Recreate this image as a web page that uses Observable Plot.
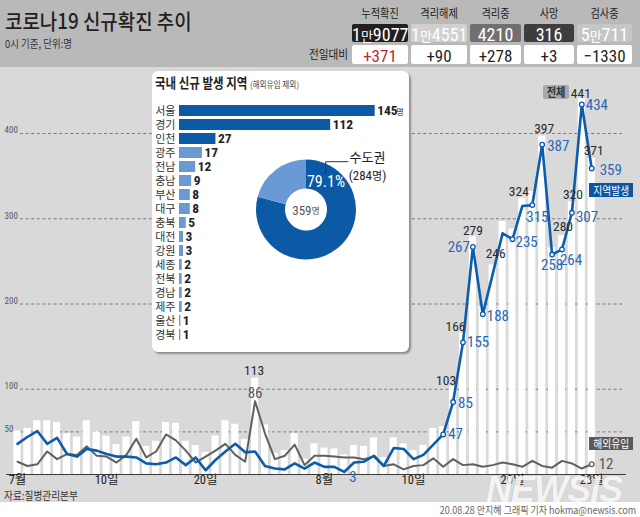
<!DOCTYPE html>
<html><head><meta charset="utf-8">
<script src="https://cdn.jsdelivr.net/npm/d3@7"></script>
<script src="https://cdn.jsdelivr.net/npm/@observablehq/plot@0.6"></script>
<style>
body{margin:0;}
#page{position:relative;width:640px;height:517px;overflow:hidden;background:#fff;font-family:"Noto Sans CJK KR",sans-serif;}
.abs{position:absolute;white-space:nowrap;}
.num{font-family:"Liberation Sans Narrow","Roboto Condensed","Roboto","Noto Sans CJK KR",sans-serif;}
.sq{display:inline-block;}
</style></head><body>
<div id="page"></div>
<script>
// ---------------- DATA ----------------
const titleText = "코로나19 신규확진 추이";
const subtitleText = "0시 기준, 단위:명";
const statNames = ["누적확진","격리해제","격리중","사망","검사중"];
const statValues = ["1만9077","1만4551","4210","316","5만711"];
const statChanges = ["+371","+90","+278","+3","−1330"];
const changeLabel = "전일대비";

// daily counts, July 1 .. Aug 28 (2020)
const totalCases = [51,54,63,63,61,48,44,63,50,45,35,44,62,33,39,61,60,39,34,26,45,63,59,41,113,58,25,28,48,18,36,
  31,30,23,34,33,43,20,43,36,28,34,54,56,103,166,279,197,246,297,288,324,332,397,266,280,320,441,371];
const localCases = [36,44,51,36,43,24,21,30,28,24,21,21,20,13,12,14,20,11,20,5,17,27,36,26,27,10,7,6,13,7,14,
  9,9,3,14,15,22,10,31,30,18,23,35,47,85,155,267,188,235,283,276,315,316,387,258,264,307,434,359];
const importedCases = [15,10,12,27,18,24,23,33,22,21,14,23,42,20,27,47,40,28,14,21,28,36,23,15,86,48,18,22,35,11,22,
  22,21,20,20,18,21,10,12,6,10,11,19,9,18,11,12,9,11,14,12,9,16,10,8,16,13,7,12];

const xTickDays = [0,9,19,31,40,50,58];
const xTickLabels = ["7월","10일","20일","8월","10일","20일","28일"];
const yTicks = [50,100,200,300,400];

// labelled points
const markedDays = [43,44,45,46,47,50,52,53,54,55,56,57,58];
const localLabelDays = [43,44,45,46,47,50,52,53,54,55,56,57,58,33];
const localLabelText = ["47","85","155","267","188","235","315","387","258","264","307","434","359","3"];
const totalLabelDays = [24,44,45,46,48,51,53,55,56,57,58];
const totalLabelText = ["113","103","166","279","246","324","397","280","320","441","371"];
const importedLabelDays = [24,58];
const importedLabelText = ["86","12"];

const regionNames = ["서울","경기","인천","광주","전남","충남","부산","대구","충북","대전","강원","세종","전북","경남","제주","울산","경북"];
const regionCounts = [145,112,27,17,12,9,8,8,5,3,3,2,2,2,2,1,1];
const metroRegions = ["서울","경기","인천"];
const metroSplit = [284, 75];

const sourceText = "자료:질병관리본부";
const creditText = "20.08.28 안지혜 그래픽 기자 hokma@newsis.com";

// ---------------- STYLE / LAYOUT ----------------
const NUM = '"Liberation Sans Narrow","Roboto Condensed","Roboto","Noto Sans CJK KR",sans-serif';
const BLUE = "#0b5cad", BLUE_TXT = "#2a68b5", GRAY_LINE = "#606060";
const page = document.getElementById("page");
function div(style, html, parent){ const d=document.createElement("div"); d.className="abs"; d.style.cssText=style; if(html!==undefined) d.innerHTML=html; (parent||page).appendChild(d); return d; }

// backgrounds
div("left:0;top:0;width:640px;height:67px;background:#b9b9b9;");
div("left:0;top:67px;width:640px;height:435px;background:#d9d9d9;");

// header
div("left:5px;top:7px;font-size:21px;line-height:26px;font-weight:500;color:#231f20;transform:scaleX(0.9);transform-origin:left center;", titleText);
div("left:5px;top:36px;font-size:11px;line-height:14px;color:#333;transform:scaleX(0.86);transform-origin:left center;", subtitleText);

const boxX = [[352,408],[411,467],[470,521],[524,574],[577,632]];
const boxBg = ["#231f20","#d0d0d0","#707070","#3d3d3d","#c6c6c6"];
const changeColors = ["#c1272d","#231f20","#231f20","#231f20","#231f20"];
function fmtVal(s){ return s.includes("만") ? s.split("만").join('<span style="font-family:\'Noto Sans CJK KR\';font-size:13px;">만</span>') : s; }
statNames.forEach((n,k)=>{
  const [x0,x1]=boxX[k], w=x1-x0;
  div(`left:${x0-6}px;top:6px;width:${w+12}px;text-align:center;font-size:12px;line-height:14px;color:#222;`, `<span class="sq" style="transform:scaleX(0.85);">${n}</span>`);
  div(`left:${x0}px;top:24px;width:${w}px;height:18px;background:${boxBg[k]};color:#fff;text-align:center;font-size:18px;line-height:18px;border-radius:2px;`, `<span class="num">${fmtVal(statValues[k])}</span>`);
  div(`left:${x0}px;top:44.5px;width:${w}px;height:19px;background:#fff;color:${changeColors[k]};text-align:center;font-size:17px;line-height:19px;border-radius:2px;`, `<span class="num">${statChanges[k]}</span>`);
});
div("left:280px;top:46px;width:68px;text-align:right;font-size:12.5px;line-height:15px;color:#222;", `<span class="sq" style="transform:scaleX(0.85);transform-origin:right center;">${changeLabel}</span>`);

// ---------------- MAIN CHART ----------------
const rows = totalCases.map((t,i)=>({i, total:t, local:localCases[i], imported:importedCases[i]}));
const marked = markedDays.map(i=>rows[i]);

const localLabelOff = [[5,0,"start"],[5,1,"start"],[4,0,"start"],[-3,0,"end"],[4,2,"start"],[3,3,"start"],[-6,12,"start"],[5,2,"start"],[0,11,"middle"],[9,11,"middle"],[4,4,"start"],[4,1,"start"],[8,1.5,"start"],[5,5,"start"]];
const totalLabelOff = [[-1,-7],[-7,-6],[-7.5,-6],[0,-6],[3,-11],[-3.6,-7],[2,-7],[1,-9.5],[1,-7],[-1,-5],[2,-7.5]];
const importedLabelOff = [[0,-8,"middle"],[7,0,"start"]];

const labelMarks = [];
localLabelDays.forEach((d,k)=>{
  const [dx,dy,a]=localLabelOff[k];
  labelMarks.push(Plot.text([{i:d, v:localCases[d], t:localLabelText[k]}], {x:"i", y:"v", text:"t", dx, dy, textAnchor:a, fill:BLUE_TXT, fontSize:15}));
});
totalLabelDays.forEach((d,k)=>{
  const [dx,dy]=totalLabelOff[k];
  labelMarks.push(Plot.text([{i:d, v:totalCases[d], t:totalLabelText[k]}], {x:"i", y:"v", text:"t", dx, dy, textAnchor:"middle", fill:"#2a2a2a", fontSize:13.5}));
});
importedLabelDays.forEach((d,k)=>{
  const [dx,dy,a]=importedLabelOff[k];
  labelMarks.push(Plot.text([{i:d, v:importedCases[d], t:importedLabelText[k]}], {x:"i", y:"v", text:"t", dx, dy, textAnchor:a, fill:"#555", fontSize:15}));
});

const main = Plot.plot({
  width:640, height:434, marginLeft:20, marginRight:18, marginTop:0, marginBottom:28,
  x:{type:"linear", domain:[0,58], range:[17,591.2], label:null},
  y:{domain:[0,400], range:[406,65], label:null},
  style:{background:"transparent", fontFamily:NUM, overflow:"visible"},
  marks:[
    Plot.gridY(yTicks, {stroke:"#707070", strokeOpacity:1, strokeDasharray:"3,2.6", strokeWidth:0.9}),
    Plot.axisY(yTicks, {label:null, tickSize:0, tickPadding:0, textAnchor:"start", dx:-16, dy:-3, fontSize:9, fill:"#555"}),
    Plot.rectY(rows, {x1:d=>d.i-0.36, x2:d=>d.i+0.36, y1:0, y2:"total", fill:"#ffffff"}),
    Plot.ruleY([0], {x1:-1.1, x2:61.5, stroke:"#3a3a3a", strokeWidth:1}),
    Plot.axisX(xTickDays, {label:null, tickSize:0, tickPadding:1, tickFormat:d=>xTickLabels[xTickDays.indexOf(d)], fontSize:12.5, fill:"#222"}),
    Plot.line(rows, {x:"i", y:"imported", stroke:GRAY_LINE, strokeWidth:2}),
    Plot.line(rows, {x:"i", y:"local", stroke:BLUE, strokeWidth:2.6}),
    Plot.dot(marked, {x:"i", y:"local", r:2.3, fill:"#fff", stroke:BLUE, strokeWidth:1.3}),
    Plot.dot([rows[58]], {x:"i", y:"imported", r:2.3, fill:"#fff", stroke:GRAY_LINE, strokeWidth:1.3}),
    ...labelMarks
  ]
});
const mainWrap = div("left:0;top:68px;");
mainWrap.appendChild(main);

// series tags
div("left:543px;top:85px;width:26px;height:14px;background:#a9a9a9;border-radius:2px;color:#333;font-size:12px;line-height:14px;text-align:center;font-weight:bold;", `<span class="sq" style="transform:scaleX(0.85);">전체</span>`);
div("left:589px;top:183px;width:44px;height:14px;background:#0b56a4;color:#fff;font-size:11.5px;line-height:14px;text-align:center;", `<span class="sq" style="transform:scaleX(0.85);">지역발생</span>`);
div("left:589px;top:437px;width:44px;height:13px;background:#5a5a5a;color:#fff;font-size:11.5px;line-height:13px;text-align:center;", `<span class="sq" style="transform:scaleX(0.85);">해외유입</span>`);

// ---------------- INSET PANEL ----------------
const panel = div("left:152px;top:71px;width:257px;height:281px;background:#fff;border-radius:6px;box-shadow:2px 2px 2px rgba(0,0,0,0.35);");
const regionRows = regionNames.map((n,k)=>({name:n, count:regionCounts[k], metro:metroRegions.includes(n)}));
const inset = Plot.plot({
  width:257, height:281, margin:0,
  x:{domain:[0,145], range:[27,222.7], axis:null},
  y:{type:"band", domain:regionNames, range:[22,279.5], padding:0.25, axis:null},
  color:{type:"identity"},
  style:{background:"transparent", fontFamily:NUM, overflow:"visible"},
  marks:[
    Plot.barX(regionRows, {x:"count", y:"name", fill:d=>d.metro ? "#0c5aa6" : "#6a9ad6"}),
    Plot.text(regionRows, {x:0, y:"name", text:"name", textAnchor:"end", dx:-4, fontSize:11, fill:"#333", fontFamily:"Noto Sans CJK KR"}),
    Plot.text(regionRows, {x:"count", y:"name", text:d=>String(d.count), textAnchor:"start", dx:2, fontSize:13.5, fontWeight:"bold", fill:"#222"}),
    Plot.text(regionRows.slice(0,1), {x:"count", y:"name", text:()=>"명", textAnchor:"start", dx:21, dy:1, fontSize:8, fill:"#222", fontFamily:"Noto Sans CJK KR"})
  ]
});
panel.appendChild(inset);
div("left:3px;top:3px;font-size:13.5px;line-height:16px;font-weight:bold;color:#222;transform:scaleX(0.85);transform-origin:left center;",
  `국내 신규 발생 지역 <span style="font-size:9px;font-weight:normal;color:#444;">(해외유입 제외)</span>`, panel);

// donut (d3 pie inside the inset svg)
const isvg = d3.select(inset);
const cx = 154, cy = 138.5;
const g = isvg.append("g").attr("transform", `translate(${cx},${cy})`);
const arcs = d3.pie().sort(null)(metroSplit);
const arcGen = d3.arc().innerRadius(21).outerRadius(50);
g.selectAll("path").data(arcs).join("path").attr("d", arcGen).attr("fill", (d,k)=>k===0 ? "#0c5aa6" : "#6a9ad6");
const total = d3.sum(metroSplit);
g.append("text").attr("x",20).attr("y",-27).attr("text-anchor","middle").attr("dominant-baseline","middle")
  .attr("fill","#fff").attr("font-size",16).attr("font-family",NUM).text(d3.format(".1%")(metroSplit[0]/total));
const ct = g.append("text").attr("x",0).attr("y",2).attr("text-anchor","middle").attr("dominant-baseline","middle").attr("fill","#555").attr("font-family",NUM);
ct.append("tspan").attr("font-size",13).text(total);
ct.append("tspan").attr("font-size",9).attr("font-family","Noto Sans CJK KR").text("명");
g.append("path").attr("d","M19.7,-36 V-47.8 H42.3").attr("fill","none").attr("stroke","#333").attr("stroke-width",1);
g.append("text").attr("x",61.5).attr("y",-50.8).attr("text-anchor","middle").attr("dominant-baseline","middle")
  .attr("fill","#222").attr("font-size",13).attr("font-family","Noto Sans CJK KR").text("수도권");
const pct = g.append("text").attr("x",61.5).attr("y",-32.5).attr("text-anchor","middle").attr("dominant-baseline","middle").attr("fill","#222").attr("font-family",NUM).attr("font-size",13);
pct.append("tspan").text("(" + metroSplit[0]);
pct.append("tspan").attr("font-family","Noto Sans CJK KR").attr("font-size",11).text("명");
pct.append("tspan").text(")");

// ---------------- FOOTER ----------------
div("left:4px;top:488px;font-size:11px;line-height:14px;color:#333;transform:scaleX(0.88);transform-origin:left center;", sourceText);
div("right:4px;top:503px;font-size:10px;line-height:13px;color:#666;transform:scaleX(0.9);transform-origin:right center;", creditText);
div("left:486px;top:472px;font-family:'Liberation Sans',sans-serif;font-weight:bold;font-style:italic;font-size:36px;line-height:36px;color:rgba(255,255,255,0.85);letter-spacing:-1px;text-shadow:0 0 1px rgba(0,0,0,0.15);", "NEWSIS");
</script>
</body></html>
